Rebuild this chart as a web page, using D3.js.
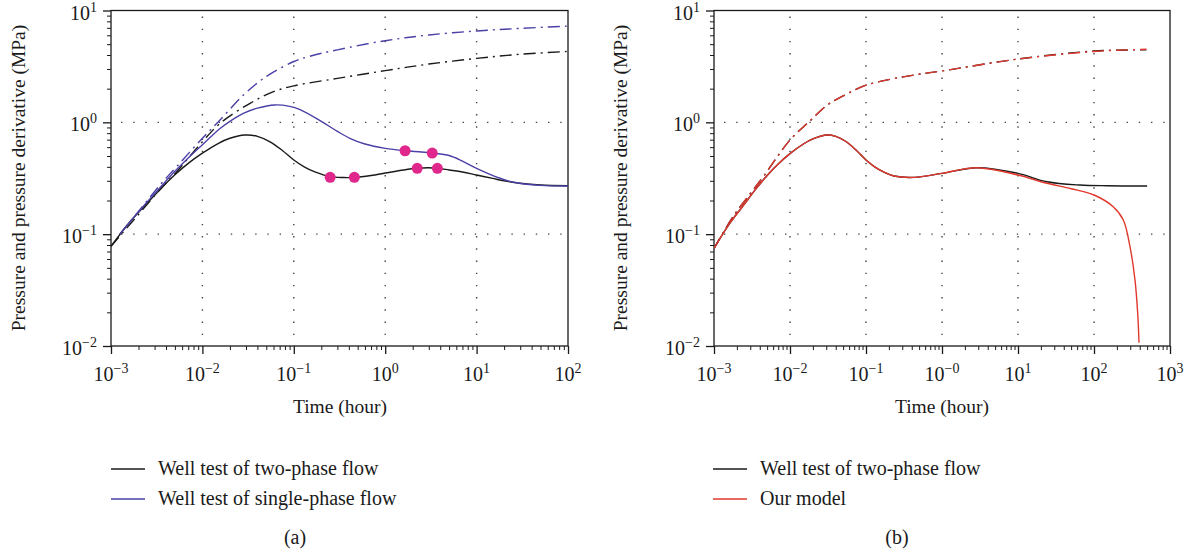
<!DOCTYPE html>
<html>
<head>
<meta charset="utf-8">
<script src="https://cdn.jsdelivr.net/npm/d3@7"></script>
<style>
  body { margin: 0; background: #fff; }
  svg { font-family: "Liberation Serif", "DejaVu Serif", serif; }
</style>
</head>
<body>
<svg id="chart" width="1190" height="552"></svg>
<script>
// ---- panel (a) data ----
var a_twoDerivT = [0.001,0.0016,0.0025,0.0035,0.005,0.007,0.01,0.015,0.02,0.029,0.04,0.055,0.075,0.1,0.13,0.17,0.25,0.35,0.46,0.7,1,1.6,2.24,3,3.72,5,7,10,15,20,30,50,100];
var a_twoDerivV = [0.078,0.128,0.19,0.255,0.34,0.43,0.53,0.65,0.72,0.77,0.75,0.67,0.56,0.46,0.4,0.36,0.327,0.321,0.322,0.335,0.352,0.375,0.388,0.392,0.388,0.375,0.36,0.338,0.315,0.3,0.285,0.275,0.271];
var a_oneDerivT = [0.00125,0.0016,0.0025,0.0035,0.005,0.007,0.01,0.0156,0.02,0.028,0.04,0.062,0.09,0.117,0.2,0.3,0.41,0.6,1,1.65,2.5,3.27,5,7,10,18,27,50,100];
var a_oneDerivV = [0.1,0.128,0.195,0.265,0.365,0.48,0.63,0.88,1.02,1.2,1.34,1.43,1.39,1.3,1.02,0.83,0.72,0.64,0.585,0.557,0.543,0.531,0.505,0.45,0.388,0.316,0.288,0.273,0.27];
var a_twoPresT = [0.001,0.002,0.0035,0.0052,0.01,0.0156,0.0332,0.06,0.1,0.3,1,3,10,30,100];
var a_twoPresV = [0.078,0.15,0.255,0.36,0.67,0.98,1.48,1.88,2.12,2.47,2.9,3.32,3.73,4.06,4.3];
var a_onePresT = [0.00125,0.002,0.0035,0.0052,0.01,0.0156,0.028,0.04,0.055,0.1,0.15,0.3,1,3,10,30,100];
var a_onePresV = [0.1,0.16,0.28,0.4,0.72,1.05,1.75,2.25,2.7,3.5,3.9,4.45,5.37,6.04,6.56,6.92,7.26];
var a_markTwoT = [0.25,0.46,2.24,3.72];
var a_markTwoV = [0.322,0.322,0.388,0.388];
var a_markOneT = [1.65,3.27];
var a_markOneV = [0.557,0.531];

// ---- panel (b) data ----
var b_modelDerivT = [0.001,0.0016,0.0025,0.0035,0.005,0.007,0.01,0.015,0.02,0.0295,0.04,0.055,0.075,0.1,0.13,0.17,0.233,0.43,1,2.87,10,24,50,100,179,243,298,346,376,391];
var b_modelDerivV = [0.0745,0.124,0.185,0.25,0.335,0.425,0.525,0.64,0.71,0.77,0.75,0.67,0.56,0.46,0.4,0.36,0.331,0.322,0.35,0.393,0.338,0.285,0.255,0.224,0.176,0.134,0.077,0.039,0.0195,0.0107];
var b_twoDerivT = [0.001,0.0016,0.0025,0.0035,0.005,0.007,0.01,0.015,0.02,0.0295,0.04,0.055,0.075,0.1,0.13,0.17,0.233,0.43,1,2.87,10,24,65,150,500];
var b_twoDerivV = [0.0745,0.124,0.185,0.25,0.335,0.425,0.525,0.64,0.71,0.77,0.75,0.67,0.56,0.46,0.4,0.36,0.331,0.322,0.35,0.393,0.35,0.294,0.275,0.271,0.27];
var b_presT = [0.001,0.0018,0.003,0.0045,0.01,0.0178,0.031,0.05,0.1,0.43,1,10,100,490];
var b_twoPresV = [0.0745,0.145,0.23,0.33,0.695,1.01,1.43,1.72,2.15,2.65,2.88,3.68,4.34,4.45];
var b_modelPresV = [0.0745,0.145,0.23,0.33,0.695,1.01,1.43,1.72,2.15,2.65,2.88,3.68,4.3,4.5];

var yTicks = [0.01,0.1,1,10];
var yTickLabels = ["\u22122","\u22121","0","1"];
var a_xTicks = [0.001,0.01,0.1,1,10,100];
var a_xTickLabels = ["\u22123","\u22122","\u22121","0","1","2"];
var b_xTicks = [0.001,0.01,0.1,1,10,100,1000];
var b_xTickLabels = ["\u22123","\u22122","\u22121","\u22120","1","2","3"];

var BLACK = "#1a1a1a", BLUE = "#4a40a6", RED = "#e0382d", PINK = "#e0288c";
var DASHDOT = "12,5,2,5";

var svg = d3.select("#chart");

function zip(t, v) {
  return t.map(function (d, i) { return {t: d, v: v[i]}; });
}

function panel(opt) {
  var x = d3.scaleLog().domain(opt.xDomain).range([opt.left, opt.right]);
  var y = d3.scaleLog().domain([0.01, 10]).range([346, 10.5]);
  var g = svg.append("g");

  // dotted grid
  opt.xTicks.slice(1, -1).forEach(function (t) {
    g.append("line").attr("x1", x(t)).attr("x2", x(t)).attr("y1", y(10) + 6).attr("y2", y(0.01))
      .attr("stroke", "#444").attr("stroke-width", 1.4).attr("stroke-dasharray", "1.4,10.8");
  });
  [0.1, 1].forEach(function (v) {
    g.append("line").attr("x1", opt.left + 10).attr("x2", opt.right).attr("y1", y(v)).attr("y2", y(v))
      .attr("stroke", "#444").attr("stroke-width", 1.4).attr("stroke-dasharray", "1.4,10.8");
  });

  // box
  g.append("rect").attr("x", opt.left).attr("y", y(10)).attr("width", opt.right - opt.left)
    .attr("height", y(0.01) - y(10)).attr("fill", "none").attr("stroke", BLACK).attr("stroke-width", 1.3);

  // axes with outward ticks
  var xMinor = [];
  for (var p = opt.xDomain[0]; p < opt.xDomain[1]; p *= 10) {
    for (var k = 2; k < 10; k++) xMinor.push(p * k);
  }
  g.append("g").attr("transform", "translate(0," + y(0.01) + ")")
    .call(d3.axisBottom(x).tickValues(opt.xTicks).tickSize(8).tickFormat(""))
    .call(function (s) { s.select(".domain").remove(); s.selectAll("line").attr("stroke", BLACK).attr("stroke-width", 1.3); });
  g.append("g").attr("transform", "translate(0," + y(0.01) + ")")
    .call(d3.axisBottom(x).tickValues(xMinor).tickSize(4).tickFormat(""))
    .call(function (s) { s.select(".domain").remove(); s.selectAll("line").attr("stroke", BLACK); });

  var yMinor = [];
  [0.01, 0.1, 1].forEach(function (p) { for (var k = 2; k < 10; k++) yMinor.push(p * k); });
  g.append("g").attr("transform", "translate(" + opt.left + ",0)")
    .call(d3.axisLeft(y).tickValues(yTicks).tickSize(8).tickFormat(""))
    .call(function (s) { s.select(".domain").remove(); s.selectAll("line").attr("stroke", BLACK).attr("stroke-width", 1.3); });
  g.append("g").attr("transform", "translate(" + opt.left + ",0)")
    .call(d3.axisLeft(y).tickValues(yMinor).tickSize(4).tickFormat(""))
    .call(function (s) { s.select(".domain").remove(); s.selectAll("line").attr("stroke", BLACK); });

  // tick labels
  opt.xTicks.forEach(function (t, i) {
    var tx = g.append("text").attr("x", x(t)).attr("y", 381).attr("text-anchor", "middle")
      .attr("font-size", 20).attr("fill", BLACK);
    tx.append("tspan").text("10");
    tx.append("tspan").attr("dy", -8).attr("font-size", 14).text(opt.xTickLabels[i]);
  });
  yTicks.forEach(function (v, i) {
    var ty = g.append("text").attr("x", opt.left - 14).attr("y", y(v) + 9).attr("text-anchor", "end")
      .attr("font-size", 20).attr("fill", BLACK);
    ty.append("tspan").text("10");
    ty.append("tspan").attr("dy", -8).attr("font-size", 14).text(yTickLabels[i]);
  });

  // axis titles
  g.append("text").attr("transform", "translate(" + opt.yTitleX + ",178) rotate(-90)")
    .attr("text-anchor", "middle").attr("font-size", 19.5).attr("fill", BLACK)
    .text("Pressure and pressure derivative (MPa)");
  g.append("text").attr("x", opt.xTitleX).attr("y", 413).attr("text-anchor", "middle")
    .attr("font-size", 19.5).attr("fill", BLACK).text("Time (hour)");

  var line = d3.line().x(function (d) { return x(d.t); }).y(function (d) { return y(d.v); })
    .curve(d3.curveCatmullRom.alpha(0.5));
  var clip = "clip-" + opt.name;
  svg.append("clipPath").attr("id", clip).append("rect")
    .attr("x", opt.left).attr("y", y(10)).attr("width", opt.right - opt.left).attr("height", y(0.01) - y(10));
  var curves = g.append("g").attr("clip-path", "url(#" + clip + ")");
  opt.series.forEach(function (s) {
    curves.append("path").datum(zip(s.t, s.v)).attr("d", line).attr("fill", "none")
      .attr("stroke", s.color).attr("stroke-width", s.width || 1.4)
      .attr("stroke-dasharray", s.dash ? DASHDOT : null);
  });
  (opt.markers || []).forEach(function (m) {
    g.selectAll(null).data(zip(m.t, m.v)).enter().append("circle")
      .attr("cx", function (d) { return x(d.t); }).attr("cy", function (d) { return y(d.v); })
      .attr("r", 5.5).attr("fill", PINK);
  });

  // legend
  opt.legend.forEach(function (l, i) {
    var ly = 469 + i * 30;
    g.append("line").attr("x1", opt.legendX).attr("x2", opt.legendX + 34).attr("y1", ly).attr("y2", ly)
      .attr("stroke", l.color).attr("stroke-width", 1.4);
    g.append("text").attr("x", opt.legendX + 47).attr("y", ly + 6).attr("font-size", 20)
      .attr("fill", BLACK).text(l.label);
  });
  g.append("text").attr("x", opt.capX).attr("y", 544).attr("text-anchor", "middle")
    .attr("font-size", 20).attr("fill", BLACK).text(opt.caption);
}

panel({
  name: "a", xDomain: [0.001, 100], left: 111, right: 568,
  xTicks: a_xTicks, xTickLabels: a_xTickLabels, yTitleX: 25, xTitleX: 340,
  series: [
    {t: a_onePresT, v: a_onePresV, color: BLUE, dash: true},
    {t: a_twoPresT, v: a_twoPresV, color: BLACK, dash: true},
    {t: a_twoDerivT, v: a_twoDerivV, color: BLACK},
    {t: a_oneDerivT, v: a_oneDerivV, color: BLUE}
  ],
  markers: [{t: a_markTwoT, v: a_markTwoV}, {t: a_markOneT, v: a_markOneV}],
  legend: [{label: "Well test of two-phase flow", color: BLACK}, {label: "Well test of single-phase flow", color: BLUE}],
  legendX: 111, capX: 295, caption: "(a)"
});

panel({
  name: "b", xDomain: [0.001, 1000], left: 714, right: 1170,
  xTicks: b_xTicks, xTickLabels: b_xTickLabels, yTitleX: 627, xTitleX: 942,
  series: [
    {t: b_presT, v: b_twoPresV, color: BLACK, dash: true},
    {t: b_presT, v: b_modelPresV, color: RED, dash: true},
    {t: b_twoDerivT, v: b_twoDerivV, color: BLACK},
    {t: b_modelDerivT, v: b_modelDerivV, color: RED}
  ],
  legend: [{label: "Well test of two-phase flow", color: BLACK}, {label: "Our model", color: RED}],
  legendX: 713, capX: 897, caption: "(b)"
});
</script>
</body>
</html>
